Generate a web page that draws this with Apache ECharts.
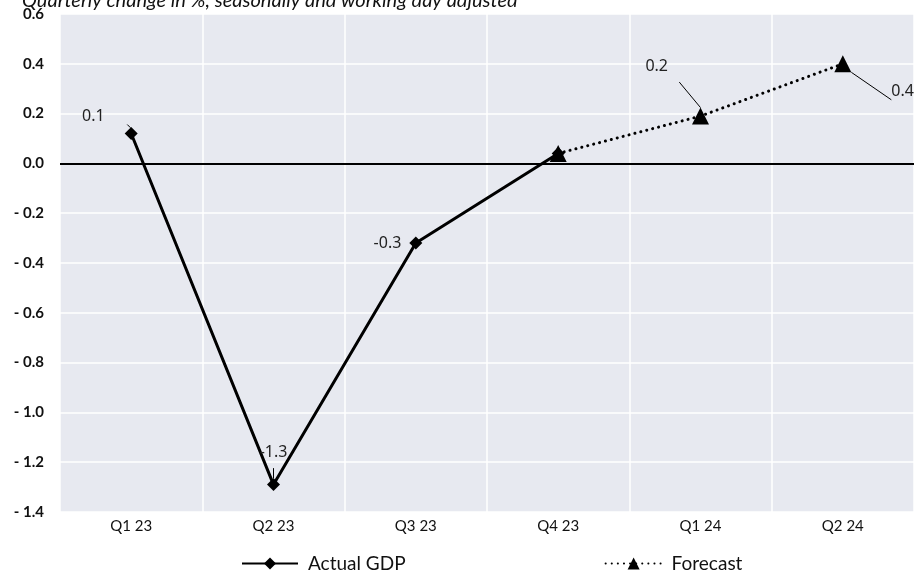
<!DOCTYPE html>
<html>
<head>
<meta charset="utf-8">
<script src="https://cdn.jsdelivr.net/npm/echarts@6/dist/echarts.min.js"></script>
<style>
  html, body { margin: 0; padding: 0; background: #fff; }
  #chart { width: 914px; height: 573px; }
</style>
</head>
<body>
<div id="chart"></div>
<script>
// Quarterly GDP change: outturn and forecast
const quarters = ['Q1 23', 'Q2 23', 'Q3 23', 'Q4 23', 'Q1 24', 'Q2 24'];
const actualGdp = [0.12, -1.29, -0.32, 0.04, null, null];
const forecast = [null, null, null, 0.04, 0.19, 0.40];
const actualLabelled = [0, 1, 2];
const forecastLabelled = [4, 5];

const AXIS_FONT = 'Lato, "Open Sans", sans-serif';
const LABEL_FONT = '"Noto Sans", "Open Sans", sans-serif';

// per-point label placement (offsets from the marker)
const actualLabelPos = {
  0: { position: 'left', distance: 20, offset: [0, -17] },
  1: { position: 'top', distance: 18, offset: [0, 0] },
  2: { position: 'left', distance: 8, offset: [0, 0] }
};
const forecastLabelPos = {
  4: { position: 'left', distance: 24, offset: [0, -50] },
  5: { position: 'right', distance: 40, offset: [0, 28] }
};

function buildData(values, labelled, placement) {
  return values.map((v, i) => {
    if (!labelled.includes(i) || v === null) return v;
    const p = placement[i];
    return {
      value: v,
      label: {
        show: true,
        position: p.position,
        distance: p.distance,
        offset: p.offset,
        formatter: (prm) => prm.value.toFixed(1)
      },
      labelLine: { show: true }
    };
  });
}

const chart = echarts.init(document.getElementById('chart'));

chart.setOption({
  backgroundColor: '#ffffff',
  animation: false,
  title: {
    text: 'Quarterly change in %, seasonally and working day adjusted',
    left: 17,
    top: -14,
    textStyle: {
      fontFamily: AXIS_FONT,
      fontStyle: 'italic',
      fontWeight: 'normal',
      fontSize: 20,
      color: '#111'
    }
  },
  grid: {
    left: 60,
    right: 0,
    top: 14,
    bottom: 61,
    show: true,
    backgroundColor: '#E7E9F0',
    borderWidth: 0
  },
  legend: {
    left: 236,
    bottom: -5,
    itemWidth: 56,
    itemHeight: 15,
    itemGap: 199,
    textStyle: {
      fontFamily: AXIS_FONT,
      fontSize: 19,
      color: '#111',
      padding: [0, 0, 0, 5]
    },
    data: ['Actual GDP', 'Forecast']
  },
  xAxis: {
    type: 'category',
    data: quarters,
    boundaryGap: true,
    axisLine: { show: false },
    axisTick: { show: false },
    splitLine: { show: true, lineStyle: { color: '#ffffff', width: 1.5 } },
    axisLabel: {
      margin: 7,
      fontFamily: AXIS_FONT,
      fontSize: 15,
      color: '#111'
    }
  },
  yAxis: {
    type: 'value',
    min: -1.4,
    max: 0.6,
    interval: 0.2,
    axisLine: { show: false },
    axisTick: { show: false },
    splitLine: { show: true, lineStyle: { color: '#ffffff', width: 1.5 } },
    axisLabel: {
      margin: 16,
      fontFamily: AXIS_FONT,
      fontWeight: 'bold',
      fontSize: 15,
      color: '#111',
      formatter: (v) => {
        const r = Math.round(v * 10) / 10;
        return r < 0 ? '- ' + Math.abs(r).toFixed(1) : r.toFixed(1);
      }
    }
  },
  series: [
    {
      name: 'Actual GDP',
      type: 'line',
      data: buildData(actualGdp, actualLabelled, actualLabelPos),
      symbol: 'diamond',
      symbolSize: 13,
      itemStyle: { color: '#000' },
      lineStyle: { color: '#000', width: 3 },
      label: {
        show: false,
        fontFamily: LABEL_FONT,
        fontSize: 16,
        color: '#222'
      },
      labelLine: { show: true, lineStyle: { color: '#000', width: 1 } },
      markLine: {
        silent: true,
        symbol: 'none',
        label: { show: false },
        lineStyle: { color: '#000', type: 'solid', width: 2 },
        data: [{ yAxis: 0 }]
      },
      z: 3
    },
    {
      name: 'Forecast',
      type: 'line',
      data: buildData(forecast, forecastLabelled, forecastLabelPos),
      symbol: 'triangle',
      symbolSize: 17,
      itemStyle: { color: '#000' },
      lineStyle: { color: '#000', width: 3, type: [0.1, 6], cap: 'round' },
      label: {
        show: false,
        fontFamily: LABEL_FONT,
        fontSize: 16,
        color: '#222'
      },
      labelLine: { show: true, lineStyle: { color: '#000', width: 1 } },
      z: 4
    }
  ]
});
</script>
</body>
</html>
